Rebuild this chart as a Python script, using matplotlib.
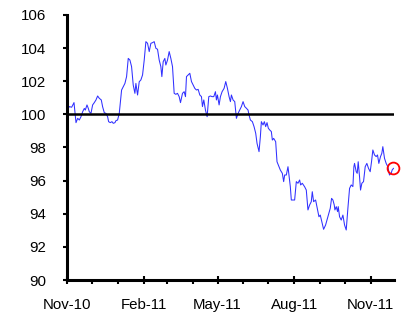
import matplotlib
matplotlib.use("Agg")
import matplotlib.pyplot as plt
import matplotlib.dates as mdates
import pandas as pd

plt.rcParams['font.family'] = ['Liberation Sans', 'DejaVu Sans']

start_date = "2010-11-01"
end_date = "2011-11-29"

# day offsets from start_date and index values
days = [1.6, 2.8, 5.6, 8.4, 10.8, 12.8, 14.8, 16.8, 18.8, 20.8, 22.0, 24.0, 25.6, 26.8, 28.8,
        30.8, 32.8, 34.8, 36.8, 38.8, 41.2, 42.8, 44.8, 46.8, 48.8, 50.0, 52.0, 54.0, 55.6,
        57.6, 58.8, 60.8, 62.8, 65.6, 67.6, 69.6, 71.6, 73.6, 75.6, 77.6, 79.6, 81.6, 82.8,
        84.8, 86.8, 88.8, 90.8, 92.8, 94.8, 96.8, 98.8, 100.8, 102.8, 104.8, 106.8, 108.8,
        110.8, 112.8, 114.0, 115.6, 117.6, 118.8, 120.8, 122.8, 124.8, 126.8, 128.8, 130.8,
        132.8, 134.8, 136.4, 138.8, 140.8, 142.4, 143.6, 145.6, 147.6, 149.6, 151.6, 153.6,
        155.6, 157.6, 159.6, 161.6, 162.8, 164.4, 166.4, 168.4, 170.4, 172.4, 174.4, 176.4,
        178.4, 179.6, 180.8, 182.8, 184.4, 186.4, 188.8, 190.8, 192.8, 194.8, 196.4, 197.6,
        199.6, 201.6, 203.6, 205.6, 207.6, 209.6, 211.6, 213.6, 215.6, 217.6, 218.8, 220.4,
        222.8, 224.8, 226.8, 228.4, 230.8, 232.4, 233.6, 235.6, 237.2, 238.8, 240.4, 242.0,
        243.6, 245.6, 246.8, 248.4, 250.8, 252.4, 254.8, 256.4, 258.8, 260.4, 261.6, 263.6,
        265.6, 266.8, 268.4, 269.6, 271.6, 273.6, 275.6, 277.6, 279.6, 280.8, 282.8, 285.6,
        287.6, 289.6, 291.6, 293.6, 294.8, 296.4, 298.8, 300.4, 302.8, 304.4, 306.8, 308.4,
        310.8, 313.6, 316.4, 318.0, 319.6, 321.2, 322.0, 323.6, 325.2, 326.0, 327.6, 329.6,
        331.6, 333.6, 335.6, 337.6, 339.6, 341.6, 343.6, 344.8, 345.6, 347.6, 348.8, 350.0,
        351.6, 352.8, 354.4, 356.4, 358.4, 360.4, 362.4, 364.4, 366.0, 367.6, 369.6, 371.6,
        373.2, 374.8, 376.8, 378.4, 379.6, 381.6, 383.6, 385.6, 387.6, 389.6, 390.8, 392.4]

values = [100.37, 100.47, 100.43, 100.71, 99.50, 99.76, 99.66, 99.86, 100.16, 100.36, 100.26,
          100.57, 100.36, 100.16, 100.06, 100.57, 100.71, 100.87, 101.11, 100.97, 100.87,
          100.46, 100.10, 100.06, 99.86, 99.56, 99.50, 99.56, 99.46, 99.50, 99.62, 99.66,
          100.06, 101.47, 101.67, 101.87, 102.28, 103.38, 103.28, 102.88, 101.77, 101.27,
          101.87, 101.17, 101.97, 102.08, 102.38, 103.28, 104.39, 104.29, 103.79, 104.29,
          104.33, 104.39, 103.99, 103.93, 103.28, 102.88, 102.28, 103.18, 103.38, 102.98,
          103.28, 103.79, 103.38, 102.88, 101.27, 101.21, 101.27, 101.07, 100.71, 101.27,
          101.37, 101.07, 102.28, 102.38, 102.48, 101.98, 101.77, 101.57, 101.47, 101.51,
          101.17, 101.07, 100.47, 100.87, 100.26, 99.86, 101.07, 101.11, 101.07, 101.07,
          101.37, 100.87, 101.17, 100.57, 101.07, 101.37, 101.57, 101.98, 101.57, 101.07,
          100.77, 101.17, 100.87, 100.77, 99.76, 100.06, 100.26, 100.47, 100.77, 100.47,
          100.37, 100.26, 99.96, 99.66, 99.56, 99.26, 98.86, 98.25, 97.75, 98.65, 99.56,
          99.36, 99.56, 99.26, 99.50, 99.16, 99.06, 98.96, 98.45, 98.55, 98.35, 97.14, 96.84,
          96.64, 96.44, 95.94, 96.34, 96.34, 96.84, 96.34, 95.64, 94.83, 94.83, 94.83, 95.94,
          95.84, 96.04, 95.74, 95.84, 95.63, 95.43, 94.23, 94.53, 94.73, 95.33, 94.73, 94.83,
          94.43, 93.82, 93.92, 93.42, 93.06, 93.32, 93.82, 94.33, 94.93, 94.83, 94.53, 94.23,
          94.43, 94.13, 94.43, 93.82, 93.62, 93.92, 93.32, 93.02, 94.33, 95.53, 95.74, 95.64,
          96.84, 97.04, 96.54, 96.44, 97.14, 96.24, 95.43, 95.84, 95.94, 96.84, 97.04, 96.74,
          96.54, 97.14, 97.85, 97.55, 97.45, 97.55, 97.04, 97.45, 97.65, 98.05, 97.35, 97.04,
          96.84, 96.34, 96.44, 96.64, 96.74]

y_ticks = [90, 92, 94, 96, 98, 100, 102, 104, 106]
baseline = 100

start = pd.Timestamp(start_date)
dates = start + pd.to_timedelta(days, unit="D")

fig = plt.figure(figsize=(4.17, 3.23), dpi=100)
ax = fig.add_axes([0.1607, 0.1331, 0.7841, 0.8205])

ax.plot(dates, values, color="#3030ff", lw=0.75, zorder=2)
ax.axhline(baseline, color="black", lw=1.8, zorder=3)
ax.plot(dates[-1], values[-1], marker="o", ms=8.5, mfc="none", mec="red", mew=1.3,
        zorder=4, linestyle="none", clip_on=False)

ax.set_xlim(start, pd.Timestamp(end_date))
ax.set_ylim(y_ticks[0], y_ticks[-1])
ax.set_yticks(y_ticks)
ax.set_yticklabels([str(t) for t in y_ticks])

ax.xaxis.set_major_locator(mdates.MonthLocator(bymonth=[2, 5, 8, 11]))
ax.xaxis.set_major_formatter(mdates.DateFormatter("%b-%y"))
ax.xaxis.set_minor_locator(mdates.MonthLocator())

for s in ["top", "right"]:
    ax.spines[s].set_visible(False)
for s in ["left", "bottom"]:
    ax.spines[s].set_linewidth(2.2)
    ax.spines[s].set_color("black")

ax.tick_params(axis="y", direction="out", length=3, width=1.5, pad=12, labelsize=10.8)
ax.tick_params(axis="x", which="major", direction="inout", length=6, width=1.5, pad=10,
               labelsize=10.8)
ax.tick_params(axis="x", which="minor", direction="out", length=3, width=1.5)

fig.savefig("out.png", dpi=100)
